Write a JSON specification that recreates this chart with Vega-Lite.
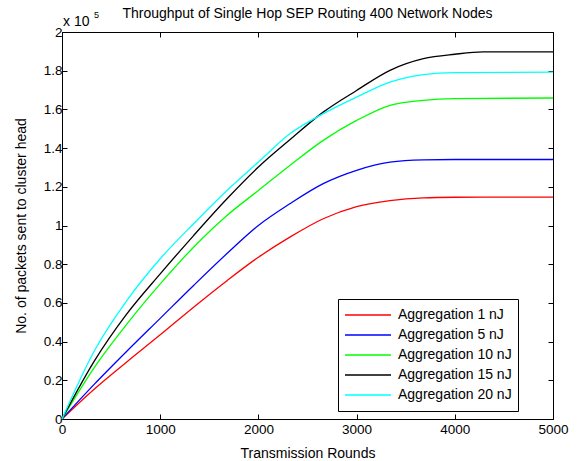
{
  "$schema": "https://vega.github.io/schema/vega-lite/v6.json",
  "width": 491,
  "height": 387,
  "autosize": {"type": "none"},
  "padding": {"left": 62, "top": 32, "right": 26, "bottom": 42},
  "background": "white",
  "config": {
    "font": "Liberation Sans",
    "view": {"stroke": "black", "strokeWidth": 1},
    "axis": {
      "grid": false,
      "domainColor": "black",
      "domainWidth": 1,
      "tickColor": "black",
      "tickSize": -5,
      "labelColor": "black",
      "labelFont": "Liberation Sans",
      "labelFontSize": 13.5,
      "labelFlush": false,
      "labelOverlap": false,
      "titleColor": "black",
      "titleFont": "Liberation Sans",
      "titleFontSize": 14,
      "titleFontWeight": "normal"
    }
  },
  "title": {
    "text": "Throughput of Single Hop SEP Routing 400 Network Nodes",
    "font": "Liberation Sans",
    "fontSize": 14,
    "fontWeight": "normal",
    "color": "black",
    "frame": "group",
    "offset": -10
  },
  "data": {
    "values": [
      {"x": 0, "y": 0, "s": "Aggregation 1 nJ"},
      {"x": 330, "y": 15500, "s": "Aggregation 1 nJ"},
      {"x": 660, "y": 29500, "s": "Aggregation 1 nJ"},
      {"x": 1000, "y": 43500, "s": "Aggregation 1 nJ"},
      {"x": 1340, "y": 57800, "s": "Aggregation 1 nJ"},
      {"x": 1680, "y": 71500, "s": "Aggregation 1 nJ"},
      {"x": 2000, "y": 83600, "s": "Aggregation 1 nJ"},
      {"x": 2320, "y": 94000, "s": "Aggregation 1 nJ"},
      {"x": 2660, "y": 103500, "s": "Aggregation 1 nJ"},
      {"x": 3000, "y": 109800, "s": "Aggregation 1 nJ"},
      {"x": 3340, "y": 112900, "s": "Aggregation 1 nJ"},
      {"x": 3680, "y": 114300, "s": "Aggregation 1 nJ"},
      {"x": 4000, "y": 114600, "s": "Aggregation 1 nJ"},
      {"x": 4500, "y": 114700, "s": "Aggregation 1 nJ"},
      {"x": 5000, "y": 114700, "s": "Aggregation 1 nJ"},

      {"x": 0, "y": 0, "s": "Aggregation 5 nJ"},
      {"x": 330, "y": 18000, "s": "Aggregation 5 nJ"},
      {"x": 660, "y": 35000, "s": "Aggregation 5 nJ"},
      {"x": 1000, "y": 52000, "s": "Aggregation 5 nJ"},
      {"x": 1340, "y": 69000, "s": "Aggregation 5 nJ"},
      {"x": 1680, "y": 85500, "s": "Aggregation 5 nJ"},
      {"x": 2000, "y": 100000, "s": "Aggregation 5 nJ"},
      {"x": 2320, "y": 111200, "s": "Aggregation 5 nJ"},
      {"x": 2660, "y": 121600, "s": "Aggregation 5 nJ"},
      {"x": 3000, "y": 128500, "s": "Aggregation 5 nJ"},
      {"x": 3340, "y": 132700, "s": "Aggregation 5 nJ"},
      {"x": 3680, "y": 133900, "s": "Aggregation 5 nJ"},
      {"x": 4000, "y": 134100, "s": "Aggregation 5 nJ"},
      {"x": 5000, "y": 134100, "s": "Aggregation 5 nJ"},

      {"x": 0, "y": 0, "s": "Aggregation 10 nJ"},
      {"x": 330, "y": 26700, "s": "Aggregation 10 nJ"},
      {"x": 660, "y": 49000, "s": "Aggregation 10 nJ"},
      {"x": 1000, "y": 69800, "s": "Aggregation 10 nJ"},
      {"x": 1340, "y": 88800, "s": "Aggregation 10 nJ"},
      {"x": 1680, "y": 105200, "s": "Aggregation 10 nJ"},
      {"x": 2000, "y": 118100, "s": "Aggregation 10 nJ"},
      {"x": 2320, "y": 131000, "s": "Aggregation 10 nJ"},
      {"x": 2660, "y": 144000, "s": "Aggregation 10 nJ"},
      {"x": 3000, "y": 154300, "s": "Aggregation 10 nJ"},
      {"x": 3340, "y": 162100, "s": "Aggregation 10 nJ"},
      {"x": 3680, "y": 164700, "s": "Aggregation 10 nJ"},
      {"x": 4000, "y": 165600, "s": "Aggregation 10 nJ"},
      {"x": 5000, "y": 165900, "s": "Aggregation 10 nJ"},

      {"x": 0, "y": 0, "s": "Aggregation 15 nJ"},
      {"x": 330, "y": 30000, "s": "Aggregation 15 nJ"},
      {"x": 660, "y": 54300, "s": "Aggregation 15 nJ"},
      {"x": 1000, "y": 75000, "s": "Aggregation 15 nJ"},
      {"x": 1340, "y": 94800, "s": "Aggregation 15 nJ"},
      {"x": 1680, "y": 113800, "s": "Aggregation 15 nJ"},
      {"x": 2000, "y": 130200, "s": "Aggregation 15 nJ"},
      {"x": 2320, "y": 144300, "s": "Aggregation 15 nJ"},
      {"x": 2660, "y": 158600, "s": "Aggregation 15 nJ"},
      {"x": 3000, "y": 169800, "s": "Aggregation 15 nJ"},
      {"x": 3340, "y": 180200, "s": "Aggregation 15 nJ"},
      {"x": 3680, "y": 186200, "s": "Aggregation 15 nJ"},
      {"x": 4000, "y": 188500, "s": "Aggregation 15 nJ"},
      {"x": 4290, "y": 189700, "s": "Aggregation 15 nJ"},
      {"x": 5000, "y": 189700, "s": "Aggregation 15 nJ"},

      {"x": 0, "y": 0, "s": "Aggregation 20 nJ"},
      {"x": 330, "y": 35300, "s": "Aggregation 20 nJ"},
      {"x": 660, "y": 61200, "s": "Aggregation 20 nJ"},
      {"x": 1000, "y": 82800, "s": "Aggregation 20 nJ"},
      {"x": 1340, "y": 100900, "s": "Aggregation 20 nJ"},
      {"x": 1680, "y": 118100, "s": "Aggregation 20 nJ"},
      {"x": 2000, "y": 132800, "s": "Aggregation 20 nJ"},
      {"x": 2320, "y": 147400, "s": "Aggregation 20 nJ"},
      {"x": 2660, "y": 157800, "s": "Aggregation 20 nJ"},
      {"x": 3000, "y": 166400, "s": "Aggregation 20 nJ"},
      {"x": 3340, "y": 174100, "s": "Aggregation 20 nJ"},
      {"x": 3680, "y": 178000, "s": "Aggregation 20 nJ"},
      {"x": 4000, "y": 179000, "s": "Aggregation 20 nJ"},
      {"x": 5000, "y": 179300, "s": "Aggregation 20 nJ"}
    ]
  },
  "layer": [
    {
      "mark": {"type": "line", "strokeWidth": 1.3, "interpolate": "monotone"},
      "encoding": {
        "x": {
          "field": "x", "type": "quantitative",
          "scale": {"domain": [0, 5000], "nice": false, "zero": false},
          "axis": {"orient": "bottom", "values": [0, 1000, 2000, 3000, 4000, 5000], "format": "d", "title": "Transmission Rounds", "labelPadding": 8, "titlePadding": 11}
        },
        "y": {
          "field": "y", "type": "quantitative",
          "scale": {"domain": [0, 200000], "nice": false},
          "axis": {"orient": "left", "values": [0, 20000, 40000, 60000, 80000, 100000, 120000, 140000, 160000, 180000, 200000], "labelExpr": "'' + (datum.value / 100000)", "title": "No. of packets sent to cluster head", "labelPadding": 5, "titlePadding": 15}
        },
        "color": {
          "field": "s", "type": "nominal",
          "scale": {
            "domain": ["Aggregation 1 nJ", "Aggregation 5 nJ", "Aggregation 10 nJ", "Aggregation 15 nJ", "Aggregation 20 nJ"],
            "range": ["#ff0000", "#0000ff", "#00ff00", "#000000", "#00ffff"]
          },
          "legend": {
            "title": null,
            "orient": "none",
            "legendX": 276,
            "legendY": 267,
            "strokeColor": "black",
            "fillColor": "white",
            "padding": 6,
            "symbolType": "stroke",
            "symbolSize": 2116,
            "symbolStrokeWidth": 1.5,
            "clipHeight": 20,
            "rowPadding": 0,
            "labelFont": "Liberation Sans",
            "labelFontSize": 14,
            "labelColor": "black",
            "labelOffset": 6
          }
        }
      }
    },
    {
      "mark": {"type": "point", "opacity": 0},
      "encoding": {
        "x": {
          "field": "x", "type": "quantitative",
          "axis": {"orient": "top", "values": [0, 1000, 2000, 3000, 4000, 5000], "labels": false, "title": null}
        },
        "y": {
          "field": "y", "type": "quantitative",
          "axis": {"orient": "right", "values": [0, 20000, 40000, 60000, 80000, 100000, 120000, 140000, 160000, 180000, 200000], "labels": false, "title": null}
        }
      }
    },
    {
      "data": {"values": [{"t": "x 10"}]},
      "mark": {"type": "text", "align": "left", "baseline": "alphabetic", "dx": 1, "dy": -6, "fontSize": 14, "font": "Liberation Sans", "color": "black"},
      "encoding": {
        "text": {"field": "t"},
        "x": {"datum": 0, "type": "quantitative", "axis": null},
        "y": {"datum": 200000, "type": "quantitative", "axis": null}
      }
    },
    {
      "data": {"values": [{"t": "5"}]},
      "mark": {"type": "text", "align": "left", "baseline": "alphabetic", "dx": 32, "dy": -14, "fontSize": 9, "font": "Liberation Sans", "color": "black"},
      "encoding": {
        "text": {"field": "t"},
        "x": {"datum": 0, "type": "quantitative", "axis": null},
        "y": {"datum": 200000, "type": "quantitative", "axis": null}
      }
    }
  ],
  "resolve": {"axis": {"x": "independent", "y": "independent"}}
}
